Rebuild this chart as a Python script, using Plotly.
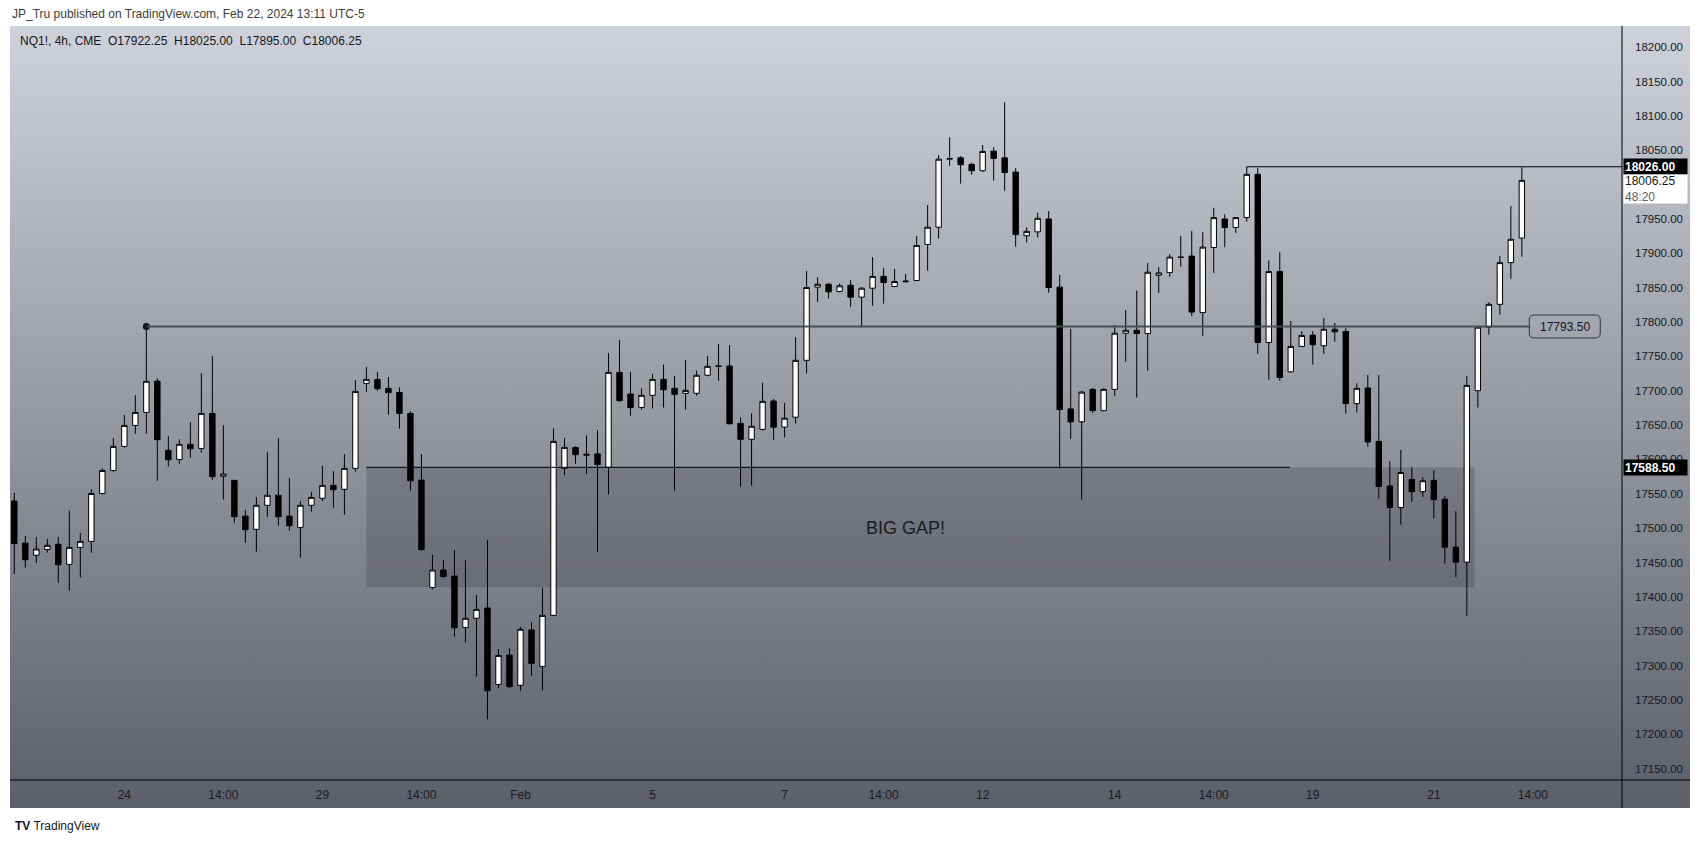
import base64
import plotly.graph_objects as go

# ---------------- data (NQ1!, 4h) ----------------
opens = [17539.5, 17478.25, 17460.5, 17469.0, 17476.5, 17447.25, 17472.0, 17480.75, 17550.5, 17584.0,
         17619.0, 17649.5, 17668.5, 17714.0, 17613.25, 17600.0, 17622.0, 17616.0, 17667.0, 17575.5,
         17569.5, 17517.5, 17498.25, 17533.25, 17547.75, 17517.5, 17501.0, 17533.25, 17543.5, 17562.25,
         17556.5, 17587.0, 17710.75, 17716.5, 17703.5, 17697.5, 17667.0, 17570.0, 17413.75, 17439.0,
         17430.25, 17355.5, 17368.75, 17383.75, 17272.5, 17315.25, 17271.25, 17351.75, 17298.75, 17373.0,
         17587.0, 17617.5, 17606.0, 17608.0, 17588.5, 17726.75, 17695.25, 17675.75, 17693.25, 17716.5,
         17703.5, 17696.25, 17696.25, 17722.5, 17735.5, 17736.0, 17652.5, 17629.25, 17643.75, 17685.0,
         17647.0, 17661.5, 17744.25, 17850.75, 17855.0, 17844.5, 17853.5, 17836.25, 17849.25, 17866.5,
         17851.75, 17858.5, 17860.5, 17913.0, 17938.0, 18037.0, 18039.0, 18029.5, 18020.25, 18048.75,
         18039.0, 18018.25, 17925.5, 17931.25, 17950.0, 17850.75, 17673.5, 17654.75, 17702.0, 17671.0,
         17702.0, 17783.75, 17788.0, 17783.25, 17868.0, 17872.0, 17894.0, 17896.0, 17813.75, 17908.5,
         17950.0, 17937.5, 17952.0, 18015.0, 17770.25, 17873.5, 17727.5, 17764.5, 17781.0, 17765.5,
         17789.5, 17786.25, 17681.25, 17704.0, 17626.25, 17561.25, 17530.0, 17571.0, 17553.0, 17569.5,
         17542.0, 17472.25, 17450.5, 17700.0, 17792.5, 17825.75, 17886.5, 17922.25]
highs = [17551.5, 17488.5, 17487.0, 17484.25, 17487.0, 17525.5, 17493.0, 17557.0, 17587.0, 17631.25,
         17664.75, 17693.75, 17793.5, 17718.0, 17634.0, 17629.25, 17654.5, 17725.75, 17750.5, 17650.0,
         17570.0, 17526.5, 17545.25, 17610.75, 17631.25, 17573.0, 17539.5, 17552.5, 17590.5, 17583.0,
         17608.0, 17715.5, 17734.5, 17727.25, 17720.0, 17705.0, 17670.0, 17608.0, 17461.0, 17453.5,
         17468.25, 17453.5, 17402.75, 17482.75, 17324.0, 17325.0, 17356.5, 17363.0, 17413.0, 17645.25,
         17631.25, 17619.0, 17635.0, 17642.75, 17755.0, 17773.75, 17727.25, 17703.5, 17724.5, 17738.0,
         17721.5, 17744.75, 17729.25, 17750.5, 17768.0, 17766.5, 17661.25, 17667.0, 17711.5, 17688.0,
         17682.25, 17778.0, 17874.25, 17865.25, 17857.0, 17856.0, 17861.25, 17850.75, 17894.5, 17878.75,
         17877.25, 17870.0, 17925.0, 17970.25, 18043.0, 18069.0, 18041.5, 18031.75, 18057.75, 18054.5,
         18120.0, 18024.0, 17938.0, 17959.0, 17961.5, 17868.5, 17790.0, 17700.0, 17704.0, 17704.0,
         17795.5, 17817.5, 17845.5, 17886.0, 17880.0, 17899.0, 17925.0, 17932.5, 17930.75, 17966.25,
         17956.75, 17952.5, 18026.0, 18024.0, 17889.75, 17901.75, 17801.5, 17786.75, 17786.75, 17806.0,
         17798.75, 17791.0, 17711.0, 17723.0, 17723.0, 17597.5, 17613.75, 17588.75, 17574.25, 17584.5,
         17546.5, 17524.75, 17721.25, 17793.5, 17829.0, 17896.0, 17968.75, 18025.0]
lows = [17433.25, 17442.5, 17449.25, 17464.25, 17420.5, 17409.0, 17428.0, 17464.25, 17549.0, 17582.0,
        17617.0, 17637.5, 17637.5, 17569.0, 17589.5, 17593.75, 17602.5, 17609.75, 17570.0, 17541.5,
        17508.0, 17478.75, 17465.75, 17516.25, 17503.5, 17496.25, 17457.0, 17524.0, 17539.5, 17529.75,
        17519.5, 17582.25, 17698.5, 17700.0, 17665.0, 17644.75, 17554.5, 17467.25, 17411.0, 17428.0,
        17342.0, 17333.25, 17283.75, 17221.75, 17266.75, 17267.75, 17263.5, 17285.25, 17263.5, 17372.0,
        17577.25, 17593.75, 17578.75, 17465.75, 17548.75, 17684.0, 17663.75, 17672.5, 17674.0, 17675.5,
        17554.5, 17672.5, 17692.75, 17721.0, 17714.5, 17650.5, 17560.5, 17561.75, 17642.0, 17628.75,
        17632.0, 17652.25, 17725.0, 17829.5, 17834.0, 17843.0, 17822.25, 17792.5, 17823.75, 17826.75,
        17850.75, 17858.5, 17860.0, 17874.75, 17921.5, 18027.5, 18001.5, 18014.5, 18018.25, 18005.75,
        17991.0, 17909.5, 17915.75, 17923.0, 17842.5, 17587.25, 17629.75, 17541.5, 17667.75, 17670.0,
        17692.75, 17742.0, 17690.0, 17729.0, 17842.5, 17865.75, 17880.5, 17808.5, 17780.0, 17871.5,
        17909.0, 17929.75, 17946.0, 17753.5, 17716.0, 17714.5, 17726.5, 17763.5, 17738.0, 17753.5,
        17771.25, 17666.75, 17668.25, 17618.5, 17543.0, 17452.5, 17505.0, 17538.25, 17545.5, 17514.0,
        17448.5, 17428.5, 17372.5, 17675.5, 17781.5, 17810.75, 17862.75, 17895.0]
closes = [17477.5, 17454.0, 17469.5, 17475.0, 17446.75, 17472.0, 17480.75, 17550.5, 17584.0, 17619.0,
          17649.5, 17668.5, 17713.75, 17628.75, 17599.5, 17622.0, 17615.5, 17667.0, 17575.0, 17578.75,
          17516.75, 17497.75, 17533.25, 17547.75, 17516.75, 17503.5, 17533.25, 17544.75, 17562.25, 17556.0,
          17587.0, 17699.0, 17716.5, 17703.0, 17697.25, 17667.0, 17569.0, 17468.75, 17439.0, 17429.5,
          17355.0, 17368.75, 17381.75, 17263.5, 17314.75, 17269.25, 17352.75, 17303.25, 17373.0, 17626.25,
          17617.5, 17607.0, 17607.5, 17592.5, 17726.75, 17685.5, 17675.5, 17693.25, 17716.5, 17701.5,
          17694.75, 17700.5, 17722.5, 17735.5, 17736.0, 17652.0, 17629.25, 17648.25, 17684.5, 17647.0,
          17660.0, 17744.25, 17850.25, 17855.0, 17844.0, 17852.75, 17836.25, 17849.25, 17866.5, 17857.5,
          17859.0, 17859.5, 17911.5, 17938.0, 18037.0, 18038.0, 18029.0, 18020.25, 18048.25, 18038.0,
          18017.5, 17927.25, 17932.0, 17951.0, 17850.25, 17672.5, 17654.75, 17698.0, 17671.0, 17702.0,
          17783.75, 17788.0, 17783.25, 17872.5, 17871.5, 17894.5, 17894.5, 17814.5, 17909.0, 17952.0,
          17937.5, 17952.0, 18015.0, 17770.25, 17873.5, 17719.25, 17764.5, 17780.5, 17767.0, 17789.5,
          17785.75, 17681.25, 17703.5, 17625.5, 17560.75, 17530.0, 17581.0, 17553.0, 17569.0, 17541.5,
          17472.25, 17450.5, 17707.75, 17792.5, 17825.75, 17886.5, 17920.5, 18006.25]

time_tick_pos = [10, 19, 28, 37, 46, 58, 70, 79, 88, 100, 109, 118, 129, 138]
time_tick_labels = ["24", "14:00", "29", "14:00", "Feb", "5", "7", "14:00", "12", "14", "14:00", "19", "21", "14:00"]

# 18000.00 is hidden behind the last-price label in the reference
price_ticks = [17150, 17200, 17250, 17300, 17350, 17400, 17450, 17500, 17550, 17600, 17650, 17700,
               17750, 17800, 17850, 17900, 17950, 18050, 18100, 18150, 18200]
price_tick_labels = ["17150.00", "17200.00", "17250.00", "17300.00", "17350.00", "17400.00", "17450.00",
                     "17500.00", "17550.00", "17600.00", "17650.00", "17700.00", "17750.00", "17800.00",
                     "17850.00", "17900.00", "17950.00", "18050.00", "18100.00", "18150.00",
                     "18200.00"]

# drawings
resist_level = 17793.50
resist_start = 12
high_level = 18026.00
high_start = 112
gap_top = 17588.50
gap_bottom = 17414.0
gap_left = 32
gap_right = 132.7
gap_line_end = 115.9
gap_label = "BIG GAP!"
gap_label_pos = (81, 17500)
last_price = 18006.25
countdown = "48:20"

header = "JP_Tru published on TradingView.com, Feb 22, 2024 13:11 UTC-5"
legend_txt = "NQ1!, 4h, CME\u00a0\u00a0O17922.25\u00a0\u00a0H18025.00\u00a0\u00a0L17895.00\u00a0\u00a0C18006.25"

FONT = "Liberation Sans"
W, H = 1699, 844
ML, MR, MT, MB = 10, 77, 26, 64
PW = W - ML - MR
PH = H - MT - MB

x_idx = list(range(len(opens)))

fig = go.Figure()
fig.add_trace(go.Candlestick(
    x=x_idx, open=opens, high=highs, low=lows, close=closes,
    increasing=dict(fillcolor="#ffffff", line=dict(color="#000000", width=1)),
    decreasing=dict(fillcolor="#000000", line=dict(color="#000000", width=1)),
    whiskerwidth=0, hoverinfo="skip", showlegend=False,
))
# start dot of the 17793.50 ray
fig.add_trace(go.Scatter(x=[resist_start], y=[highs[resist_start]], mode="markers",
                         marker=dict(color="#111111", size=7), hoverinfo="skip", showlegend=False))

# gradient background
svg = ('<svg xmlns="http://www.w3.org/2000/svg" width="100" height="100" preserveAspectRatio="none">'
       '<defs><linearGradient id="g" x1="0" y1="0" x2="0" y2="1">'
       '<stop offset="0" stop-color="#cfd2da"/><stop offset="1" stop-color="#5c5e69"/>'
       '</linearGradient></defs><rect width="100" height="100" fill="url(#g)"/></svg>')
src = "data:image/svg+xml;base64," + base64.b64encode(svg.encode()).decode()
fig.add_layout_image(dict(source=src, xref="paper", yref="paper", x=0, y=1,
                          sizex=(1690 - ML) / PW, sizey=(808 - MT) / PH,
                          xanchor="left", yanchor="top", sizing="stretch", layer="below"))

shapes = []
# gap rectangle
shapes.append(dict(type="rect", xref="x", yref="y", x0=gap_left, x1=gap_right, y0=gap_bottom, y1=gap_top,
                   fillcolor="rgba(40,42,54,0.22)", line=dict(width=0), layer="below"))
# gap top line
shapes.append(dict(type="line", xref="x", yref="y", x0=gap_left, x1=gap_line_end, y0=gap_top, y1=gap_top,
                   line=dict(color="#000000", width=1)))
# resistance ray
shapes.append(dict(type="line", xref="x", yref="y", x0=resist_start, x1=137.7, y0=resist_level, y1=resist_level,
                   line=dict(color="#4b4e57", width=2)))
# rounded label box for the ray (pixel-sized path anchored at the label position)
hw, hh, r = 35.5, 11.5, 5
box_path = (f"M {-hw + r},{-hh} L {hw - r},{-hh} Q {hw},{-hh} {hw},{-hh + r} L {hw},{hh - r} "
            f"Q {hw},{hh} {hw - r},{hh} L {-hw + r},{hh} Q {-hw},{hh} {-hw},{hh - r} "
            f"L {-hw},{-hh + r} Q {-hw},{-hh} {-hw + r},{-hh} Z")
shapes.append(dict(type="path", xref="x", yref="y", xsizemode="pixel", ysizemode="pixel",
                   xanchor=140.9, yanchor=resist_level, path=box_path,
                   line=dict(color="#33363e", width=1), fillcolor="rgba(0,0,0,0)"))
# high ray
shapes.append(dict(type="line", xref="x", yref="y", x0=high_start, x1=146.1, y0=high_level, y1=high_level,
                   line=dict(color="#000000", width=1)))
# frame lines: bottom axis line and right price-scale border
shapes.append(dict(type="line", xref="paper", yref="paper", x0=0, x1=(1690 - ML) / PW, y0=0, y1=0,
                   line=dict(color="#000000", width=1)))
shapes.append(dict(type="line", xref="paper", yref="paper", x0=1, x1=1, y0=-(808 - (H - MB)) / PH, y1=1,
                   line=dict(color="#000000", width=1)))

ann = []
ann.append(dict(x=gap_label_pos[0], y=gap_label_pos[1], xref="x", yref="y", text=gap_label, showarrow=False,
                font=dict(family=FONT, size=18, color="#1b1c20")))
ann.append(dict(x=140.9, y=resist_level, xref="x", yref="y", text=f"{resist_level:.2f}", showarrow=False,
                font=dict(family=FONT, size=12, color="#131722")))
px_right = 1 + 1.0 / PW
ann.append(dict(x=px_right, y=high_level, xref="paper", yref="y", xanchor="left", yanchor="middle",
                text=f"<b>{high_level:.2f}</b>", showarrow=False, align="left",
                font=dict(family=FONT, size=12, color="#ffffff"), bgcolor="#000000",
                width=61, height=13, borderpad=1))
ann.append(dict(x=px_right, y=17993.0, xref="paper", yref="y", xanchor="left", yanchor="middle",
                text=f"{last_price:.2f}<br><span style='color:#5d606b'>{countdown}</span>", showarrow=False,
                align="left", font=dict(family=FONT, size=12, color="#131722"), bgcolor="#ffffff",
                width=61, height=26, borderpad=1))
ann.append(dict(x=px_right, y=gap_top, xref="paper", yref="y", xanchor="left", yanchor="middle",
                text=f"<b>{gap_top:.2f}</b>", showarrow=False, align="left",
                font=dict(family=FONT, size=12, color="#ffffff"), bgcolor="#000000",
                width=61, height=13, borderpad=1))
# header texts
ann.append(dict(x=0, y=1 + (MT - 14) / PH, xref="paper", yref="paper", xanchor="left",
                yanchor="middle", text=header, showarrow=False,
                font=dict(family=FONT, size=12, color="#3b3b3b")))
ann.append(dict(x=8 / PW, y=1 - (41 - MT) / PH, xref="paper", yref="paper", xanchor="left",
                yanchor="middle", text=legend_txt, showarrow=False,
                font=dict(family=FONT, size=12, color="#131722")))
# footer logo
ann.append(dict(x=3 / PW, y=-(826 - (H - MB)) / PH, xref="paper", yref="paper", xanchor="left",
                yanchor="middle", text="<b>TV</b> TradingView", showarrow=False,
                font=dict(family=FONT, size=12, color="#131722")))

fig.update_layout(
    width=W, height=H,
    margin=dict(l=ML, r=MR, t=MT, b=MB, pad=0),
    paper_bgcolor="#ffffff", plot_bgcolor="rgba(0,0,0,0)",
    shapes=shapes, annotations=ann, showlegend=False,
    xaxis=dict(range=[-0.39, 146.1], rangeslider=dict(visible=False), showgrid=False, zeroline=False,
               showline=False, ticks="", tickmode="array", tickvals=time_tick_pos, ticktext=time_tick_labels,
               tickfont=dict(family=FONT, size=12, color="#1a1b20"), ticklabelstandoff=6, fixedrange=True),
    yaxis=dict(range=[17133.4, 18230.9], side="right", showgrid=False, zeroline=False, showline=False,
               ticks="", tickmode="array", tickvals=price_ticks, ticktext=price_tick_labels,
               tickfont=dict(family=FONT, size=11.5, color="#131722"), ticklabelstandoff=12, fixedrange=True),
)

fig.write_html("out.html", config={"displayModeBar": False},
               post_script="document.body.style.margin='0px';document.body.style.overflow='hidden';")
